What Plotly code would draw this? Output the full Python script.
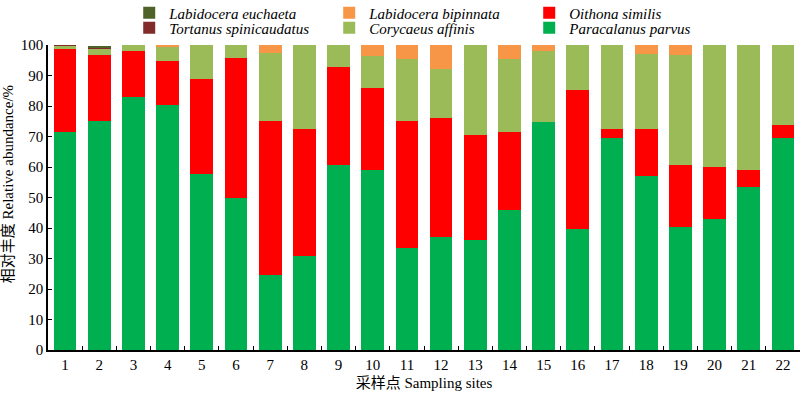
import plotly.graph_objects as go

sites = [str(i) for i in range(1, 23)]

paracalanus = [71.5, 75.0, 83.1, 80.3, 57.8, 49.9, 24.6, 30.9, 60.8, 59.0, 33.3,
               37.0, 36.0, 46.0, 74.8, 39.8, 69.4, 57.2, 40.4, 42.8, 53.6, 69.4]
oithona = [27.3, 21.7, 15.0, 14.3, 30.9, 46.0, 50.4, 41.4, 31.9, 26.8, 41.8,
           39.0, 34.5, 25.4, 0.0, 45.5, 3.1, 15.3, 20.3, 17.2, 5.3, 4.4]
corycaeus = [0.9, 1.9, 1.9, 4.9, 11.3, 4.1, 22.3, 27.7, 7.3, 10.6, 20.2,
             16.0, 29.5, 23.9, 23.3, 14.7, 27.5, 24.5, 35.9, 40.0, 41.1, 26.2]
bipinnata = [0.0, 0.0, 0.0, 0.5, 0.0, 0.0, 2.7, 0.0, 0.0, 3.6, 4.7,
             8.0, 0.0, 4.7, 1.9, 0.0, 0.0, 3.0, 3.4, 0.0, 0.0, 0.0]
tortanus = [0.3, 0.7, 0, 0, 0, 0, 0, 0, 0, 0, 0, 0, 0, 0, 0, 0, 0, 0, 0, 0, 0, 0]
euchaeta = [0.0, 0.4, 0, 0, 0, 0, 0, 0, 0, 0, 0, 0, 0, 0, 0, 0, 0, 0, 0, 0, 0, 0]

# name, values, colour, legend row, rank in row
series = [
    ("Paracalanus parvus", paracalanus, "#00B050", "legend2", 3),
    ("Oithona similis", oithona, "#FF0000", "legend", 3),
    ("Corycaeus affinis", corycaeus, "#9BBB59", "legend2", 2),
    ("Labidocera bipinnata", bipinnata, "#F79646", "legend", 2),
    ("Tortanus spinicaudatus", tortanus, "#822B2B", "legend2", 1),
    ("Labidocera euchaeta", euchaeta, "#4F6228", "legend", 1),
]

fig = go.Figure()
for name, vals, color, leg, rank in series:
    fig.add_trace(go.Bar(
        x=sites, y=vals, name=name, marker=dict(color=color, line=dict(width=0)),
        legend=leg, legendrank=rank,
    ))

serif = "Liberation Serif, Times New Roman, Noto Sans CJK SC, serif"

legend_common = dict(
    orientation="h", x=0.108, xanchor="left", yanchor="middle",
    font=dict(family=serif, size=15, style="italic"),
    entrywidth=155, entrywidthmode="pixels", traceorder="normal",
    itemwidth=30, borderwidth=0, bgcolor="rgba(0,0,0,0)",
)

fig.update_layout(
    width=800, height=397,
    barmode="stack", bargap=0.335,
    plot_bgcolor="white", paper_bgcolor="white",
    margin=dict(l=48, r=0, t=45, b=47, autoexpand=False),
    font=dict(family=serif, size=15, color="black"),
    legend=dict(legend_common, y=1.105),
    legend2=dict(legend_common, y=1.056),
    xaxis=dict(
        type="category", showline=True, linecolor="black", linewidth=1.5,
        ticks="inside", tickson="boundaries", ticklen=4, tickcolor="black",
        tickfont=dict(size=15), automargin=False,
        title=dict(text="采样点 Sampling sites", font=dict(size=15), standoff=6),
    ),
    yaxis=dict(
        range=[0, 100], dtick=10, showline=True, linecolor="black", linewidth=1.5,
        ticks="inside", ticklen=4, tickcolor="black", showgrid=False,
        zeroline=False, tickfont=dict(size=15), automargin=False,
    ),
    annotations=[dict(
        text="相对丰度 Relative abundance/%", xref="paper", yref="paper",
        x=-0.053, y=0.544, xanchor="center", yanchor="middle", textangle=-90,
        showarrow=False, font=dict(family=serif, size=15, color="black"),
    )],
)

fig.write_html("out.html", config={"displayModeBar": False},
               post_script="document.body.style.margin='0';")
